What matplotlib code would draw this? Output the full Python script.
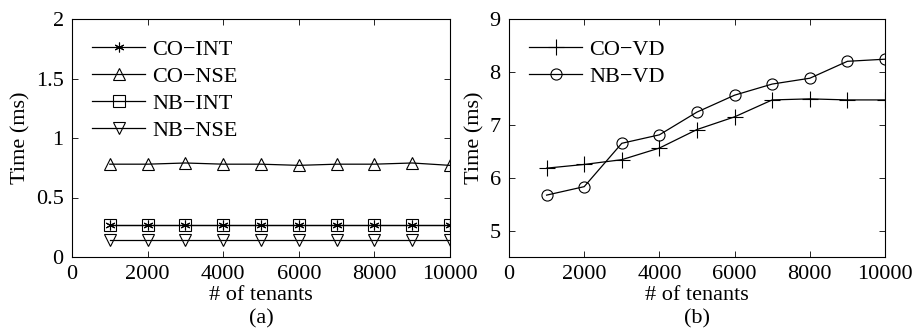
import matplotlib.pyplot as plt

plt.rcParams['font.family'] = ['Liberation Serif', 'DejaVu Serif']
plt.rcParams['font.size'] = 16

tenants = [1000, 2000, 3000, 4000, 5000, 6000, 7000, 8000, 9000, 10000]

co_int = [0.27, 0.27, 0.27, 0.27, 0.27, 0.27, 0.27, 0.27, 0.27, 0.27]
co_nse = [0.78, 0.78, 0.79, 0.78, 0.78, 0.77, 0.78, 0.78, 0.79, 0.77]
nb_int = [0.27, 0.27, 0.27, 0.27, 0.27, 0.27, 0.27, 0.27, 0.27, 0.27]
nb_nse = [0.14, 0.14, 0.14, 0.14, 0.14, 0.14, 0.14, 0.14, 0.14, 0.14]

co_vd = [6.18, 6.25, 6.34, 6.56, 6.91, 7.15, 7.47, 7.49, 7.47, 7.47]
nb_vd = [5.67, 5.83, 6.65, 6.81, 7.24, 7.56, 7.77, 7.88, 8.20, 8.24]

fig = plt.figure(figsize=(9.14, 3.33), dpi=100)
ax1 = fig.add_axes([72 / 914, 1 - 257 / 333, 378 / 914, 238 / 333])
ax2 = fig.add_axes([509 / 914, 1 - 257 / 333, 376 / 914, 238 / 333])

mk = dict(color='black', lw=0.9, markerfacecolor='none', markeredgecolor='black',
          markeredgewidth=0.8, markersize=9)
ax1.plot(tenants, co_int, marker=(6, 2, 0), label='CO\u2212INT', **{**mk, 'markersize': 7})
ax1.plot(tenants, co_nse, marker='^', label='CO\u2212NSE', **mk)
ax1.plot(tenants, nb_int, marker='s', label='NB\u2212INT', **{**mk, 'markersize': 8})
ax1.plot(tenants, nb_nse, marker='v', label='NB\u2212NSE', **mk)
ax1.set_ylim(0, 2)
ax1.set_yticks([0, 0.5, 1, 1.5, 2])
ax1.set_yticklabels(['0', '0.5', '1', '1.5', '2'])

ax2.plot(tenants, co_vd, marker='+', label='CO\u2212VD', **{**mk, 'markersize': 11})
ax2.plot(tenants, nb_vd, marker='o', label='NB\u2212VD', **{**mk, 'markersize': 8})
ax2.set_ylim(4.5, 9)
ax2.set_yticks([5, 6, 7, 8, 9])

for ax, tag in [(ax1, '(a)'), (ax2, '(b)')]:
    ax.set_xlim(0, 10000)
    ax.set_xticks([0, 2000, 4000, 6000, 8000, 10000])
    ax.tick_params(direction='in', top=True, right=True, length=4, width=0.6, pad=6)
    for s in ax.spines.values():
        s.set_linewidth(0.8)
    ax.set_xlabel('# of tenants\n' + tag, labelpad=1, linespacing=1.3)
    ax.set_ylabel('Time (ms)', labelpad=4)
    ax.legend(loc='upper left', frameon=False, handlelength=2.4, handletextpad=0.3,
              labelspacing=0.3, borderaxespad=0.45, borderpad=0.45, fontsize=16)

fig.savefig('out.png', dpi=100)
